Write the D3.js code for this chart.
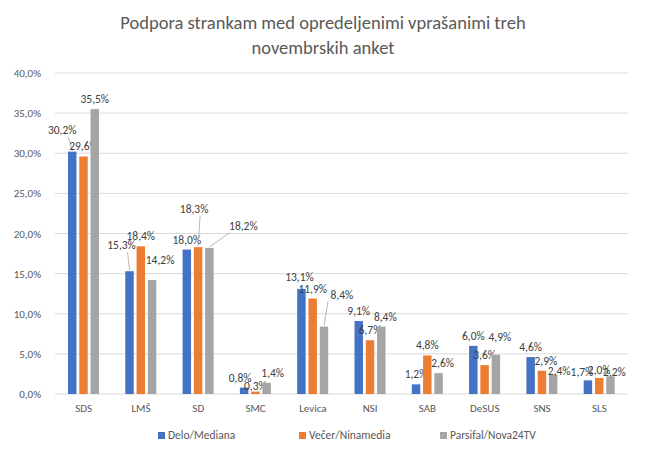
<!DOCTYPE html>
<html><head><meta charset="utf-8">
<script src="https://cdn.jsdelivr.net/npm/d3@7"></script>
<style>body{margin:0;background:#fff;font-family:Calibri,Carlito,"Open Sans",sans-serif}</style>
</head><body><svg id="chart" width="647" height="455"></svg>
<script>
var categories = ["SDS","LMŠ","SD","SMC","Levica","NSI","SAB","DeSUS","SNS","SLS"];
var series = ["Delo/Mediana","Večer/Ninamedia","Parsifal/Nova24TV"];
var delo = [30.2,15.3,18.0,0.8,13.1,9.1,1.2,6.0,4.6,1.7];
var vecer = [29.6,18.4,18.3,0.3,11.9,6.7,4.8,3.6,2.9,2.0];
var parsifal = [35.5,14.2,18.2,1.4,8.4,8.4,2.6,4.9,2.4,2.2];
var yTicks = [0,5,10,15,20,25,30,35,40];
var colors = ["#4472c4","#ed7d31","#a5a5a5"];
// label nudges [dx,dy] in px, for labels moved off the bars
var nudge = {
  "0,0":[-10,-12],"1,0":[-8,-16],"1,2":[8,-10],"2,1":[-4,-28],"2,2":[34,-12],
  "3,0":[-4,0],"3,1":[0,4],"3,2":[6,0],"4,0":[-2,-2],"4,2":[18,-22],
  "5,2":[4,0],"6,2":[4,0],"7,2":[4,-8],
  "8,1":[4,0],"8,2":[6,6],"9,0":[-6,2],"9,1":[0,2],"9,2":[4,6]
};
var leader = {"0,0":1,"1,0":1,"2,1":1,"2,2":1,"4,2":1};

var svg = d3.select("#chart");
var data = [delo, vecer, parsifal];

var x = d3.scaleBand().domain(categories).range([55,628]);
var xs = d3.scaleBand().domain(d3.range(3)).range([13,44]).paddingInner(0.25);
var y = d3.scaleLinear().domain([0,40]).range([394,73]);

svg.append("g").selectAll("line").data(yTicks).enter().append("line")
  .attr("x1",55).attr("x2",628)
  .attr("y1",d=>y(d)).attr("y2",d=>y(d))
  .attr("stroke","#d9d9d9");

svg.append("g").selectAll("text").data(yTicks).enter().append("text")
  .attr("x",41).attr("y",d=>y(d)+4)
  .attr("text-anchor","end").attr("font-size",11).attr("fill","#595959")
  .text(d=>d.toFixed(1).replace(".",",")+"%");

svg.append("g").selectAll("text").data(categories).enter().append("text")
  .attr("x",d=>x(d)+x.bandwidth()/2).attr("y",412)
  .attr("text-anchor","middle").attr("font-size",11).attr("fill","#595959")
  .text(d=>d);

data.forEach(function(vals, s) {
  svg.append("g").selectAll("rect").data(vals).enter().append("rect")
    .attr("x",(d,i)=>x(categories[i])+xs(s))
    .attr("width",xs.bandwidth())
    .attr("y",d=>y(d)).attr("height",d=>y(0)-y(d))
    .attr("fill",colors[s]);
  vals.forEach(function(d,i){
    var cx = x(categories[i])+xs(s)+xs.bandwidth()/2;
    var key = i+","+s;
    var n = nudge[key]||[0,0];
    var tx = cx+n[0], ty = y(d)-6+n[1];
    if (leader[key]) {
      svg.append("line").attr("x1",cx).attr("y1",y(d)-1)
        .attr("x2",tx+(n[0]>0?-14:6)).attr("y2",ty+3)
        .attr("stroke","#a6a6a6").attr("stroke-width",0.8);
    }
    svg.append("text").attr("x",tx).attr("y",ty)
      .attr("text-anchor","middle").attr("font-size",11.5).attr("fill","#404040")
      .text(d.toFixed(1).replace(".",",")+"%");
  });
});

svg.append("text").attr("x",323).attr("y",29).attr("text-anchor","middle")
  .attr("font-size",18.5).attr("fill","#595959").text("Podpora strankam med opredeljenimi vprašanimi treh");
svg.append("text").attr("x",323).attr("y",54).attr("text-anchor","middle")
  .attr("font-size",18.5).attr("fill","#595959").text("novembrskih anket");

var lx = [158,299,440];
series.forEach(function(name,s){
  svg.append("rect").attr("x",lx[s]).attr("y",432).attr("width",7).attr("height",7).attr("fill",colors[s]);
  svg.append("text").attr("x",lx[s]+10).attr("y",439).attr("font-size",11.5).attr("fill","#595959").text(name);
});
</script></body></html>
